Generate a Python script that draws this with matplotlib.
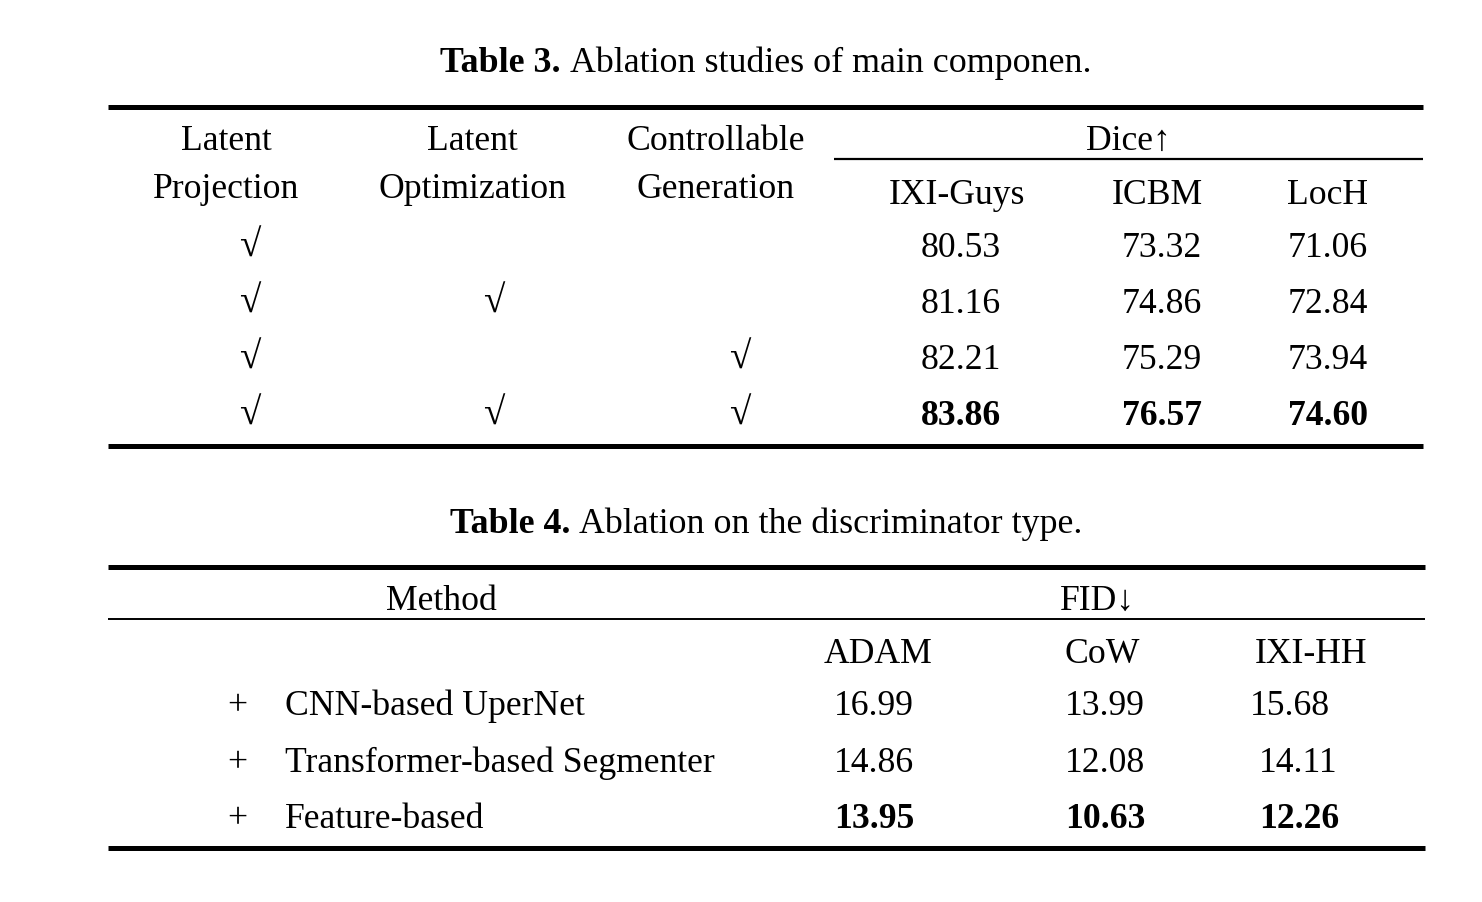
import matplotlib
matplotlib.use("Agg")
import matplotlib.pyplot as plt

plt.rcParams['font.family'] = ['Liberation Serif', 'DejaVu Serif']

# ---- Table 3 data ----
t3_title_bold = "Table 3."
t3_title_rest = "Ablation studies of main componen."
t3_components = [("Latent", "Projection"), ("Latent", "Optimization"),
                 ("Controllable", "Generation")]
t3_metric = "Dice\u2191"
t3_datasets = ["IXI-Guys", "ICBM", "LocH"]
t3_checks = [[1, 0, 0], [1, 1, 0], [1, 0, 1], [1, 1, 1]]
t3_values = [[80.53, 73.32, 71.06],
             [81.16, 74.86, 72.84],
             [82.21, 75.29, 73.94],
             [83.86, 76.57, 74.60]]

# ---- Table 4 data ----
t4_title_bold = "Table 4."
t4_title_rest = "Ablation on the discriminator type."
t4_method_header = "Method"
t4_metric = "FID\u2193"
t4_datasets = ["ADAM", "CoW", "IXI-HH"]
t4_methods = ["CNN-based UperNet", "Transformer-based Segmenter", "Feature-based"]
t4_values = [[16.99, 13.99, 15.68],
             [14.86, 12.08, 14.11],
             [13.95, 10.63, 12.26]]

FS = 25.7
TFS = 25.8
CFS = 28

fig = plt.figure(figsize=(14.82, 9.02), dpi=100)
ax = fig.add_axes([0, 0, 1, 1])
ax.set_xlim(0, 1482)
ax.set_ylim(902, 0)
ax.axis('off')


def title(y, bold, rest, cx):
    t1 = ax.text(0, y, bold + " ", fontsize=TFS, fontweight='bold', va='baseline', ha='left')
    t2 = ax.text(0, y, rest, fontsize=TFS, va='baseline', ha='left')
    fig.canvas.draw()
    r = fig.canvas.get_renderer()
    inv = ax.transData.inverted()
    b1 = t1.get_window_extent(r)
    b2 = t2.get_window_extent(r)
    w1 = inv.transform((b1.x1, 0))[0] - inv.transform((b1.x0, 0))[0]
    w2 = inv.transform((b2.x1, 0))[0] - inv.transform((b2.x0, 0))[0]
    x0 = cx - (w1 + w2) / 2
    t1.set_x(x0)
    t2.set_x(x0 + w1)


# ---------- Table 3 ----------
title(72, t3_title_bold, t3_title_rest, 766)
ax.hlines(107, 108, 1423, color='black', lw=3.6)
comp_x = [226, 472, 716]
for (l1, l2), x in zip(t3_components, comp_x):
    ax.text(x, 150, l1, fontsize=FS, ha='center', va='baseline')
    ax.text(x, 198, l2, fontsize=FS, ha='center', va='baseline')
ax.text(1128, 150, t3_metric, fontsize=FS, ha='center', va='baseline')
ax.hlines(159, 834, 1423, color='black', lw=1.6)
ds_x = [957, 1157, 1328]
for d, x in zip(t3_datasets, ds_x):
    ax.text(x, 204, d, fontsize=FS, ha='center', va='baseline')

check_x = [250, 494, 740]
val_x = [961, 1162, 1328]
row_y = [257, 313, 369, 425]
best3 = [max(col) for col in zip(*t3_values)]
for checks, vals, y in zip(t3_checks, t3_values, row_y):
    for c, x in zip(checks, check_x):
        if c:
            ax.text(x, y, "\u221a", fontsize=CFS, ha='center', va='baseline')
    for j, (v, x) in enumerate(zip(vals, val_x)):
        ax.text(x, y, f"{v:.2f}", fontsize=FS, ha='center', va='baseline',
                fontweight='bold' if v == best3[j] else 'normal')
ax.hlines(446, 108, 1423, color='black', lw=3.6)

# ---------- Table 4 ----------
title(533, t4_title_bold, t4_title_rest, 766)
ax.hlines(567, 108, 1425, color='black', lw=3.6)
ax.text(441, 610, t4_method_header, fontsize=FS, ha='center', va='baseline')
ax.text(1098, 610, t4_metric, fontsize=FS, ha='center', va='baseline')
ax.hlines(619, 108, 1425, color='black', lw=1.4)
ds4_x = [878, 1102, 1311]
for d, x in zip(t4_datasets, ds4_x):
    ax.text(x, 663, d, fontsize=FS, ha='center', va='baseline')

row4_y = [715, 772, 828]
val4_x = [[874, 1105, 1290], [874, 1105, 1298], [874, 1105, 1299]]
best4 = [min(col) for col in zip(*t4_values)]
for m, vals, xs, y in zip(t4_methods, t4_values, val4_x, row4_y):
    ax.text(237, y, "+", fontsize=FS, ha='center', va='baseline')
    ax.text(285, y, m, fontsize=FS, ha='left', va='baseline')
    for j, (v, x) in enumerate(zip(vals, xs)):
        ax.text(x, y, f"{v:.2f}", fontsize=FS, ha='center', va='baseline',
                fontweight='bold' if v == best4[j] else 'normal')
ax.hlines(848, 108, 1425, color='black', lw=3.6)

fig.savefig("out.png", dpi=100)
